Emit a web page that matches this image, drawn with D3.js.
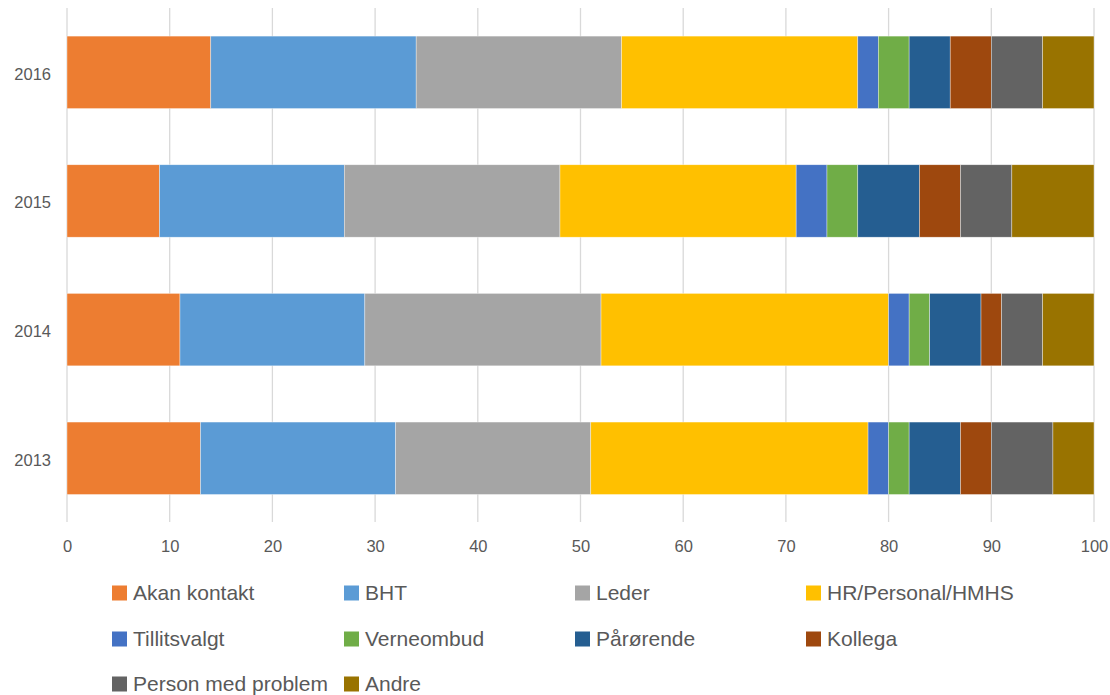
<!DOCTYPE html>
<html><head><meta charset="utf-8">
<script src="https://cdn.jsdelivr.net/npm/d3@7"></script>
<style>body{margin:0;background:#fff;} svg{display:block;}</style>
</head><body>
<script>
const years = ["2016","2015","2014","2013"];
const seriesNames = ["Akan kontakt","BHT","Leder","HR/Personal/HMHS","Tillitsvalgt","Verneombud","Pårørende","Kollega","Person med problem","Andre"];
const colors = ["#ED7D31","#5B9BD5","#A5A5A5","#FFC000","#4472C4","#70AD47","#255E91","#9E480E","#636363","#997300"];
const v2016 = [14,20,20,23,2,3,4,4,5,5];
const v2015 = [9,18,21,23,3,3,6,4,5,8];
const v2014 = [11,18,23,28,2,2,5,2,4,5];
const v2013 = [13,19,19,27,2,2,5,3,6,4];
const xTicks = [0,10,20,30,40,50,60,70,80,90,100];

const valuesByYear = {"2016":v2016,"2015":v2015,"2014":v2014,"2013":v2013};
const rows = years.map(y => {
  const o = {year:y};
  seriesNames.forEach((s,i)=> o[s] = valuesByYear[y][i]);
  return o;
});

const W = 1110, H = 695;
const FONT = "Liberation Sans, Arial, sans-serif";
const svg = d3.select("body").append("svg").attr("width",W).attr("height",H);
const x = d3.scaleLinear().domain([0,100]).range([67,1094]);
const y = d3.scaleBand().domain(years).range([8,522.6]).paddingInner(0.437).paddingOuter(0.2185);

// gridlines
svg.append("g").selectAll("line").data(xTicks).join("line")
  .attr("x1",d=>x(d)).attr("x2",d=>x(d)).attr("y1",8).attr("y2",522)
  .attr("stroke","#d9d9d9").attr("stroke-width",1.3);

const stack = d3.stack().keys(seriesNames)(rows);
const color = d3.scaleOrdinal().domain(seriesNames).range(colors);

svg.append("g").selectAll("g").data(stack).join("g")
  .attr("fill", d=>color(d.key))
  .selectAll("rect").data(d=>d).join("rect")
  .attr("x", d=>x(d[0])).attr("width", d=>x(d[1])-x(d[0]))
  .attr("y", d=>y(d.data.year)).attr("height", y.bandwidth())
  .attr("stroke","#fff").attr("stroke-width",0.6).attr("stroke-opacity",0.6);

// x axis labels
const xa = d3.axisBottom(x).tickValues(xTicks).tickSize(0).tickPadding(0);
const gx = svg.append("g").attr("transform","translate(0,546)").call(xa);
gx.select(".domain").remove();
gx.selectAll("text").attr("dy","0.35em").attr("font-family",FONT)
  .attr("font-size",16.5).attr("fill","#595959");

// y axis labels
const ya = d3.axisLeft(y).tickSize(0).tickPadding(0);
const gy = svg.append("g").attr("transform","translate(51,2)").call(ya);
gy.select(".domain").remove();
gy.selectAll("text").attr("font-family",FONT)
  .attr("font-size",16.5).attr("fill","#595959");

// legend
const colX = [112,344,575,806];
const rowY = [593,639,684];
const leg = svg.append("g").selectAll("g").data(seriesNames).join("g")
  .attr("transform",(d,i)=>`translate(${colX[i%4]},${rowY[Math.floor(i/4)]})`);
leg.append("rect").attr("x",0).attr("y",-7.5).attr("width",15).attr("height",15).attr("fill",d=>color(d));
leg.append("text").attr("x",21).attr("dy","0.35em").text(d=>d)
  .attr("font-family",FONT).attr("font-size",21).attr("fill","#595959");
</script>
</body></html>
